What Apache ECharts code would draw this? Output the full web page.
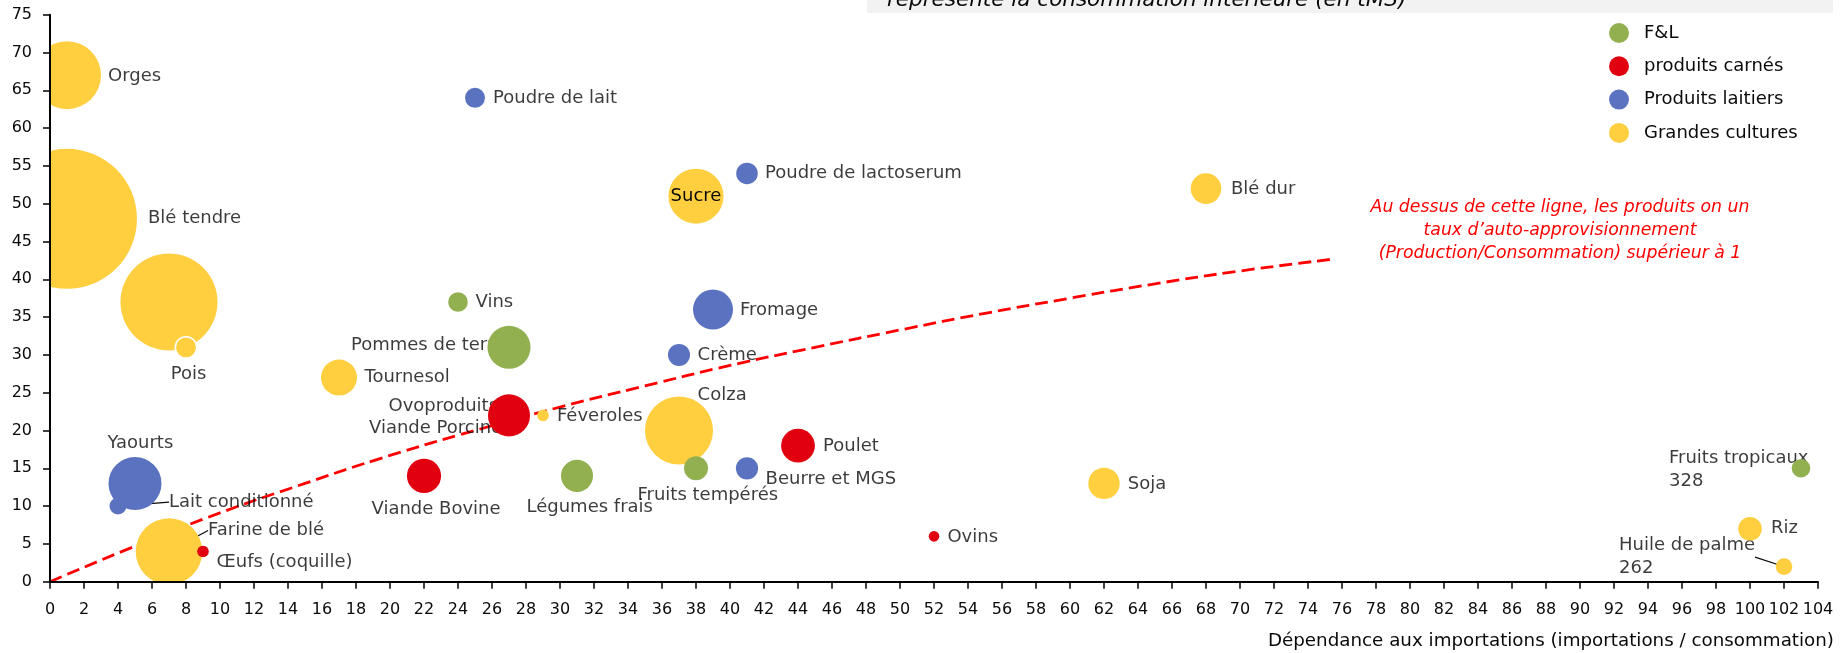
<!DOCTYPE html>
<html>
<head>
<meta charset="utf-8">
<script src="https://cdn.jsdelivr.net/npm/echarts@6/dist/echarts.min.js"></script>
<style>
  html, body { margin: 0; padding: 0; background: #ffffff; }
  #chart { width: 1847px; height: 653px; }
</style>
</head>
<body>
<div id="chart"></div>
<script>
// ---- Données (x : dépendance aux importations, y : axe vertical, taille : consommation en tMS) ----

// Fruits et légumes
const flNames = ['Vins', 'Pommes de terre', 'Légumes frais', 'Fruits tempérés', 'Fruits tropicaux'];
const flX = [24, 27, 31, 38, 103];
const flY = [37, 31, 14, 15, 15];
const flConso = [365, 1760, 975, 545, 328];

// Produits carnés
const carnesNames = ['Ovoproduits', 'Viande Porcine', 'Viande Bovine', 'Poulet', 'Ovins', 'Œufs (coquille)'];
const carnesX = [27, 27, 22, 44, 52, 9];
const carnesY = [22, 22, 14, 18, 6, 4];
const carnesConso = [200, 1680, 1110, 1085, 107, 128];

// Produits laitiers
const laitNames = ['Poudre de lait', 'Poudre de lactoserum', 'Fromage', 'Crème', 'Beurre et MGS', 'Lait conditionné', 'Yaourts'];
const laitX = [25, 41, 39, 37, 41, 4, 5];
const laitY = [64, 54, 36, 30, 15, 10, 13];
const laitConso = [380, 440, 1520, 460, 470, 275, 2670];

// Grandes cultures
const gcNames = ['Orges', 'Blé tendre', 'Maïs', 'Pois', 'Tournesol', 'Féveroles', 'Sucre', 'Blé dur', 'Colza', 'Soja', 'Riz', 'Huile de palme', 'Farine de blé'];
const gcX = [1, 1, 7, 8, 17, 29, 38, 68, 37, 62, 100, 102, 7];
const gcY = [67, 48, 37, 31, 27, 22, 51, 52, 20, 13, 7, 2, 4];
const gcConso = [4390, 18600, 8940, 435, 1230, 128, 2875, 890, 4400, 937, 530, 262, 4215];

// Ligne d'auto-approvisionnement = 1
const seuilX = [0, 5, 10, 15, 20, 25, 30, 35, 40, 45, 50, 55, 60, 65, 70, 75.6];
const seuilY = [0, 4.7, 9.1, 13.0, 16.7, 20.0, 23.1, 25.9, 28.6, 31.0, 33.3, 35.5, 37.5, 39.4, 41.1, 42.7];

// Graduations
const xTicks = { min: 0, max: 104, step: 2 };
const yTicks = { min: 0, max: 75, step: 5 };

// ---- Mise en forme ----
const FONT = '"DejaVu Sans", sans-serif';
const TEXT = '#0a0a0a';
const LABEL_SIZE = 18;

// Placement des étiquettes (décalage en px par rapport au centre de la bulle)
const labelPlacement = {
  'Orges':                { dx: 41,   dy: 1 },
  'Blé tendre':           { dx: 81,   dy: 0 },
  'Poudre de lait':       { dx: 18,   dy: 0 },
  'Poudre de lactoserum': { dx: 18,   dy: 0 },
  'Blé dur':              { dx: 25,   dy: 1 },
  'Vins':                 { dx: 17.5, dy: 0 },
  'Fromage':              { dx: 27,   dy: 1 },
  'Pommes de terre':      { dx: -158, dy: -2 },
  'Crème':                { dx: 18.6, dy: 0 },
  'Tournesol':            { dx: 25.5, dy: 0 },
  'Pois':                 { dx: 2.5,  dy: 27, align: 'center' },
  'Ovoproduits':          { dx: -120.5, dy: -9.5 },
  'Viande Porcine':       { dx: -140, dy: 13 },
  'Féveroles':            { dx: 14,   dy: 1 },
  'Colza':                { dx: 18.6, dy: -35.5 },
  'Poulet':               { dx: 25,   dy: 1 },
  'Beurre et MGS':        { dx: 18.6, dy: 11 },
  'Fruits tempérés':      { dx: -58.5, dy: 27.4 },
  'Légumes frais':        { dx: -50.5, dy: 31 },
  'Viande Bovine':        { dx: -52.5, dy: 33 },
  'Soja':                 { dx: 23.7, dy: 1 },
  'Yaourts':              { dx: -27.5, dy: -40 },
  'Lait conditionné':     { dx: 51,   dy: -4, guide: true },
  'Farine de blé':        { dx: 39,   dy: -21, guide: true },
  'Œufs (coquille)':      { dx: 13.6, dy: 11 },
  'Ovins':                { dx: 13.4, dy: 1 },
  'Fruits tropicaux':     { dx: -132, dy: 1.4, withSize: true },
  'Riz':                  { dx: 21,   dy: 0 },
  'Huile de palme':       { dx: -165, dy: -9.5, withSize: true, guide: true }
};
// Étiquettes écrites dans la bulle
const insideLabels = ['Sucre'];
// Bulles cerclées de blanc
const outlined = ['Pois'];

const groups = [
  { name: 'Grandes cultures', color: '#FFCF40', names: gcNames, x: gcX, y: gcY, size: gcConso, z: 3 },
  { name: 'F&L', color: '#92B050', names: flNames, x: flX, y: flY, size: flConso, z: 4 },
  { name: 'produits carnés', color: '#E1000F', names: carnesNames, x: carnesX, y: carnesY, size: carnesConso, z: 4 },
  { name: 'Produits laitiers', color: '#5A72C0', names: laitNames, x: laitX, y: laitY, size: laitConso, z: 4 }
];

const bubbleSize = (v) => 1.026 * Math.sqrt(v[2]);

const bubbleSeries = groups.map(g => ({
  name: g.name,
  type: 'scatter',
  z: g.z,
  clip: true,
  silent: true,
  symbol: 'circle',
  symbolSize: bubbleSize,
  itemStyle: { color: g.color, opacity: 1 },
  data: g.names.map((n, i) => {
    const item = { name: n, value: [g.x[i], g.y[i], g.size[i]] };
    if (insideLabels.includes(n)) {
      item.label = {
        show: true, position: 'inside', formatter: '{b}',
        color: TEXT, fontFamily: FONT, fontSize: LABEL_SIZE
      };
    }
    if (outlined.includes(n)) {
      item.itemStyle = { borderColor: '#ffffff', borderWidth: 1.5 };
    }
    return item;
  })
}));

// Série d'étiquettes placée sous les bulles
const labelData = [];
groups.forEach(g => {
  g.names.forEach((n, i) => {
    const p = labelPlacement[n];
    if (!p) return;
    const item = {
      name: n,
      value: [g.x[i], g.y[i], g.size[i]],
      label: {
        show: true,
        position: 'inside',
        align: p.align || 'left',
        verticalAlign: 'middle',
        offset: [p.dx, p.dy],
        formatter: p.withSize ? '{b}\n{@[2]}' : '{b}'
      }
    };
    if (p.guide) {
      item.labelLine = { show: true, length2: 0, lineStyle: { color: TEXT, width: 1.2 } };
    }
    labelData.push(item);
  });
});

const labelSeries = {
  name: 'étiquettes',
  type: 'scatter',
  z: 2,
  clip: false,
  silent: true,
  symbol: 'circle',
  symbolSize: 0.5,
  itemStyle: { color: 'transparent' },
  label: { color: TEXT, fontFamily: FONT, fontSize: LABEL_SIZE, lineHeight: 23 },
  data: labelData
};

const seuilSeries = {
  name: 'seuil',
  type: 'line',
  z: 1,
  silent: true,
  showSymbol: false,
  smooth: true,
  lineStyle: { color: '#FF0000', width: 2.8, type: [13, 6] },
  data: seuilX.map((x, i) => [x, seuilY[i]])
};

const axisCommon = {
  type: 'value',
  z: 10,
  splitLine: { show: false },
  axisLine: { show: true, onZero: false, lineStyle: { color: '#000000', width: 2 } },
  axisTick: { show: true, length: 7, lineStyle: { color: '#000000', width: 1.5 } },
  axisLabel: { color: TEXT, fontFamily: FONT, fontSize: 16, margin: 18 }
};

const chart = echarts.init(document.getElementById('chart'), null, { renderer: 'canvas' });
chart.setOption({
  animation: false,
  backgroundColor: '#ffffff',
  textStyle: { fontFamily: FONT },
  grid: { left: 50, right: 29, top: 14.7, bottom: 71.3, containLabel: false },
  legend: {
    orient: 'vertical',
    left: 1609,
    top: 23,
    padding: 0,
    itemWidth: 20,
    itemHeight: 20,
    itemGap: 13.3,
    icon: 'circle',
    data: ['F&L', 'produits carnés', 'Produits laitiers', 'Grandes cultures'],
    textStyle: { color: TEXT, fontFamily: FONT, fontSize: 18, padding: [0, 0, 0, 10] }
  },
  xAxis: Object.assign({}, axisCommon, {
    min: xTicks.min, max: xTicks.max, interval: xTicks.step,
    axisLabel: Object.assign({}, axisCommon.axisLabel, { margin: 20 }),
    name: 'Dépendance aux importations (importations / consommation)',
    nameLocation: 'end',
    nameGap: 16,
    nameTextStyle: { color: TEXT, fontFamily: FONT, fontSize: 18.3, align: 'right', verticalAlign: 'top', padding: [51, 0, 0, 0] }
  }),
  yAxis: Object.assign({}, axisCommon, {
    min: yTicks.min, max: yTicks.max, interval: yTicks.step
  }),
  graphic: [
    // les bulles s'arrêtent aux axes
    {
      type: 'rect', left: 0, top: 0, z: 6, silent: true,
      shape: { width: 49, height: 653 },
      style: { fill: '#ffffff' }
    },
    {
      type: 'rect', left: 0, top: 582, z: 6, silent: true,
      shape: { width: 1847, height: 71 },
      style: { fill: '#ffffff' }
    },
    {
      type: 'rect', left: 867, top: 0, z: 7,
      shape: { width: 966, height: 13 },
      style: { fill: '#F2F2F2' }
    },
    {
      type: 'text', x: 887, y: 0, z: 8,
      style: {
        text: 'représente la consommation intérieure (en tMS)',
        font: 'italic 21.5px "DejaVu Sans"',
        fill: TEXT,
        align: 'left', textAlign: 'left',
        verticalAlign: 'middle', textVerticalAlign: 'middle'
      }
    },
    {
      type: 'text', x: 1560, y: 230.5, z: 8,
      style: {
        text: 'Au dessus de cette ligne, les produits on un\ntaux d’auto-approvisionnement\n(Production/Consommation) supérieur à 1',
        font: 'italic 17.3px "DejaVu Sans"',
        fill: '#FF0000',
        lineHeight: 23,
        align: 'center', textAlign: 'center',
        verticalAlign: 'middle', textVerticalAlign: 'middle'
      }
    }
  ],
  series: [seuilSeries, labelSeries].concat(bubbleSeries)
});
</script>
</body>
</html>
